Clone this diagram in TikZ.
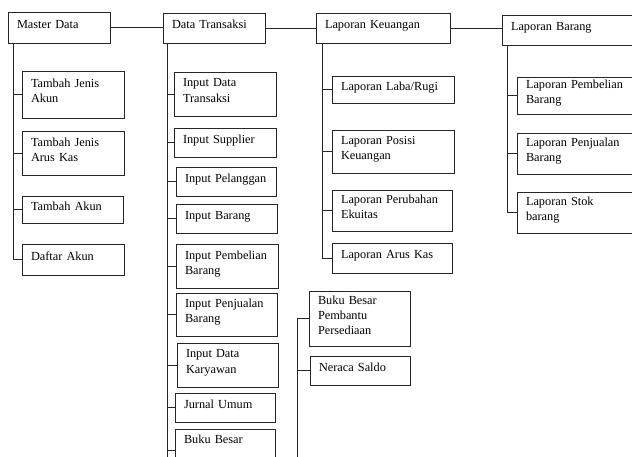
\documentclass[tikz,border=0pt]{standalone}
\usepackage{fontspec}
\setmainfont{Liberation Serif}
\tikzset{
  box/.style={draw=black!85, line width=0.9pt, fill=white, outer sep=0pt,
    inner xsep=9pt, inner ysep=2pt, align=left,
    font=\fontsize{12.3}{15.2}\selectfont},
  conn/.style={draw=black!85, line width=0.9pt}
}
\newcommand\mybox[6]{%
  \pgfmathsetmacro\bw{#4-#2}\pgfmathsetmacro\bh{#5-#3}\pgfmathsetmacro\tw{#4-#2-18}%
  \node[box, minimum width=\bw pt, minimum height=\bh pt, text width=\tw pt, anchor=north west] (#1) at (#2,#3) {#6\rule[-7pt]{0pt}{7pt}};}
\begin{document}
\begin{tikzpicture}[x=1pt, y=-1pt]
\useasboundingbox (0,0) rectangle (632,457);
\clip (0,0) rectangle (632,457);
\fill[white] (0,0) rectangle (632,457);
% top row
\mybox{MD}{8}{12}{110}{43}{Master~Data}
\mybox{DT}{163}{13}{265}{43}{Data~Transaksi}
\mybox{LK}{316}{13}{450}{43}{Laporan~Keuangan}
\mybox{LB}{502}{15}{645}{45}{Laporan~Barang}
% master data children
\mybox{TJA}{22}{71}{124}{118}{Tambah~Jenis\\Akun}
\mybox{TJK}{22}{131}{124}{175}{Tambah~Jenis\\Arus~Kas}
\mybox{TA}{22}{196}{123}{223}{Tambah~Akun}
\mybox{DA}{22}{244}{124}{275}{Daftar~Akun}
% data transaksi children
\mybox{IDT}{174}{72}{276}{116}{Input~Data\\Transaksi}
\mybox{IS}{174}{128}{276}{157}{Input~Supplier}
\mybox{IP}{176}{167}{276}{196}{Input~Pelanggan}
\mybox{IB}{176}{204}{277}{233}{Input~Barang}
\mybox{IPB}{176}{244}{278}{288}{Input~Pembelian\\Barang}
\mybox{IPJ}{176}{293}{277}{336}{Input~Penjualan\\Barang}
\mybox{IDK}{177}{343}{278}{387}{Input~Data\\Karyawan}
\mybox{JU}{175}{393}{275}{422}{Jurnal~Umum}
\mybox{BB}{175}{429}{275}{472}{Buku~Besar\\\strut}
% laporan keuangan children
\mybox{LLR}{332}{76}{454}{103}{Laporan~Laba/Rugi}
\mybox{LPK}{332}{130}{454}{173}{Laporan~Posisi\\Keuangan}
\mybox{LPE}{332}{190}{452}{231}{Laporan~Perubahan\\Ekuitas}
\mybox{LAK}{332}{243}{452}{273}{Laporan~Arus~Kas}
% laporan barang children
\mybox{LPB}{517}{77}{645}{114}{Laporan~Pembelian\\Barang}
\mybox{LPJ}{517}{133}{645}{174}{Laporan~Penjualan\\Barang}
\mybox{LSB}{517}{192}{645}{233}{Laporan~Stok\\barang}
% second column
\mybox{BBP}{309}{291}{410}{346}{Buku~Besar\\Pembantu\\Persediaan}
\mybox{NS}{310}{356}{410}{385}{Neraca~Saldo}
% top connectors
\draw[conn] (MD.east) -- (MD.east -| DT.west);
\draw[conn] (DT.east) -- (DT.east -| LK.west);
\draw[conn] (LK.east) -- (LK.east -| LB.west);
% spines
\coordinate (s1) at ([xshift=5pt]MD.south west);
\coordinate (s2) at ([xshift=4pt]DT.south west);
\coordinate (s3) at ([xshift=6pt]LK.south west);
\coordinate (s4) at ([xshift=5pt]LB.south west);
\coordinate (s5) at (297,317);
\coordinate (s2end) at (167,462);
\coordinate (s5end) at (297,462);
\draw[conn] (s1) -- (s1 |- DA.west);
\draw[conn] (s2) -- (s2end);
\draw[conn] (s3) -- (s3 |- LAK.west);
\draw[conn] (s4) -- (s4 |- LSB.west);
\draw[conn] (s5 |- BBP.west) -- (s5end);
% stubs
\foreach \c in {TJA,TJK,TA,DA} \draw[conn] (\c.west -| s1) -- (\c.west);
\foreach \c in {IDT,IS,IP,IB,IPB,IPJ,IDK,JU,BB} \draw[conn] (\c.west -| s2) -- (\c.west);
\foreach \c in {LLR,LPK,LPE,LAK} \draw[conn] (\c.west -| s3) -- (\c.west);
\foreach \c in {LPB,LPJ,LSB} \draw[conn] (\c.west -| s4) -- (\c.west);
\foreach \c in {BBP,NS} \draw[conn] (\c.west -| s5) -- (\c.west);
\end{tikzpicture}
\end{document}
